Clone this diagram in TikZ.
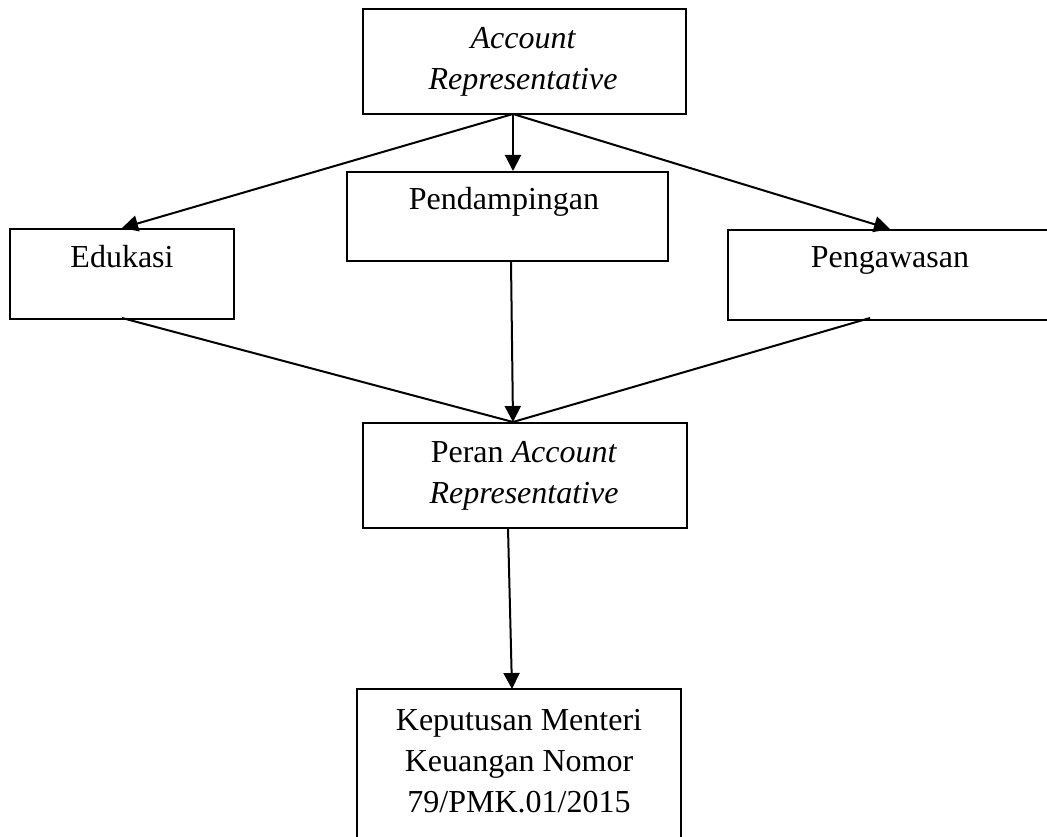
\documentclass[tikz,border=0pt]{standalone}
\usepackage{fontspec}
\setmainfont{Liberation Serif}
\usetikzlibrary{arrows.meta}
\begin{document}
\begin{tikzpicture}[x=1pt,y=-1pt,
  box/.style={draw,line width=2pt,rectangle,inner sep=0pt},
  txt/.style={inner sep=0pt,anchor=base,align=center,font=\fontsize{32}{41}\selectfont},
  ln/.style={line width=2pt},
  arr/.style={line width=2pt,-{Triangle[length=16pt,width=16pt]}}]
\useasboundingbox (0,0) rectangle (1047,837);
% boxes
\node[box,minimum width=323pt,minimum height=105pt] (ar) at (524.5,61.5) {};
\node[box,minimum width=321pt,minimum height=89pt] (pend) at (507.5,216.5) {};
\node[box,minimum width=224pt,minimum height=90pt] (edu) at (122,274) {};
\node[box,minimum width=324pt,minimum height=90pt] (peng) at (890,275) {};
\node[box,minimum width=324pt,minimum height=105pt] (peran) at (525,475.5) {};
\node[box,minimum width=324pt,minimum height=171pt] (kep) at (519,774.5) {};
% texts (base anchor = baseline of the last line)
\node[txt] (arT) at (523,90) {\itshape Account\\\itshape Representative};
\node[txt] (pendT) at (504,210) {Pendampingan};
\node[txt] (eduT) at (122,267) {Edukasi};
\node[txt] (pengT) at (890,268) {Pengawasan};
\node[txt] (peranT) at (524,503) {Peran \textit{Account}\\\textit{Representative}};
\node[txt] (kepT) at (519,812) {Keputusan Menteri\\Keuangan Nomor\\79/PMK.01/2015};
% connector points
\coordinate (apex) at (513,114);
\coordinate (conv) at (513,422);
\coordinate (pendB) at (511,261);
\coordinate (pengB) at (870,318);
\coordinate (eduB) at (122,318);
\coordinate (peranB) at (508,528);
\coordinate (kepT1) at (512,689);
% connectors
\draw[arr] (apex) -- (edu.north);
\draw[arr] (apex) -- (apex |- pend.north);
\draw[arr] (apex) -- (peng.north);
\draw[ln] (eduB) -- (conv);
\draw[ln] (pengB) -- (conv);
\draw[arr] (pendB) -- (conv);
\draw[arr] (peranB) -- (kepT1);
\end{tikzpicture}
\end{document}
